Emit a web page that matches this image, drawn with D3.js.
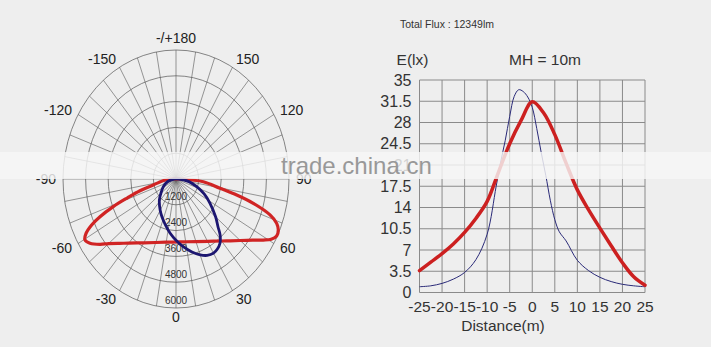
<!DOCTYPE html>
<html><head><meta charset="utf-8">
<script src="https://cdn.jsdelivr.net/npm/d3@7"></script>
<style>
html,body{margin:0;padding:0;background:#eeeeee;}
svg{display:block;font-family:Arial,"Liberation Sans",sans-serif;}
</style></head>
<body>
<svg id="c" width="711" height="347"></svg>
<script>
// ---------- DATA ----------
// Polar intensity (cd), angle in degrees (0 = down, +90 = right)
const redAngles  = [-90,-85.4,-77,-74.1,-71.1,-68.9,-66.5,-64.5,-62.1,-59.6,-56.8,-53,-50,-45,-40,-30,-20,-10,0,10,20,30,40,45,50,55,58.5,61,63.6,66.4,68.9,71.5,74.6,77,79.5,85,90];
const redValues  = [250,586,1237,1988,2767,3570,4400,4961,5405,5604,5459,5050,4673,4228,3897,3426,3142,2984,2930,2965,3098,3345,3764,4064,4449,4962,5435,5780,5968,5927,5730,5265,4258,3308,2376,1455,250];
const blueAngles = [-90,-75,-62,-50,-42,-30,-23,-15,-7,0,7,14,20,25,30,34,38,42,45,50,58,65,72,80,90];
const blueValues = [100,450,763,1050,1320,1680,1910,2200,2545,2850,3172,3500,3757,3920,3983,3930,3794,3500,3157,2750,2130,1650,1156,700,150];
const ringValues = [1200,2400,3600,4800,6000];
const angleLabels = [-150,-120,-90,-60,-30,0,30,60,90,120,150];
const topLabel = "-/+180";

// Illuminance curve (MH = 10m)
const distRed  = [-25,-22.5,-20,-17.5,-15,-12.5,-10,-7.5,-5,-2.5,0,2.5,5,7.5,10,12.5,15,17.5,20,22.5,25];
const luxRed   = [3.6,5.0,6.4,8.0,9.9,12.2,15.0,19.8,24.5,28.3,31.4,29.6,26.0,21.3,16.9,13.6,10.6,7.7,4.9,2.6,1.2];
const distBlue = [-25,-22.5,-20,-17.5,-15,-12.5,-10,-8,-7,-6,-5,-4,-3,-2,-1,0,1,2,3,4,5,6,7.5,10,12.5,15,17.5,20,22.5,25];
const luxBlue  = [0.95,1.1,1.5,2.2,3.3,5.4,9.6,17.5,21.5,25.0,29.0,32.3,33.4,33.1,32.2,30.5,27.0,23.0,19.3,15.2,12.0,10.0,8.5,5.3,3.6,2.5,1.8,1.35,1.1,0.95];
const xTicks = [-25,-20,-15,-10,-5,0,5,10,15,20,25];
const yTicks = [0,3.5,7,10.5,14,17.5,21,24.5,28,31.5,35];
const yTickLabels = ["0","3.5","7","10.5","14","17.5","21","24.5","28","31.5","35"];
const totalFlux = "Total Flux : 12349lm";
const mhLabel = "MH = 10m";

// ---------- DRAW ----------
const svg = d3.select("#c");
svg.append("rect").attr("width",711).attr("height",347).attr("fill","#eeeeee");

// Polar chart
const cx = 176, cy = 179;
const rX = d3.scaleLinear().domain([0,6000]).range([0,113]);
const rY = d3.scaleLinear().domain([0,6000]).range([0,129]);
const rad = d => d*Math.PI/180;
const px = (a,v) => cx + rX(v)*Math.sin(rad(a));
const py = (a,v) => cy + rY(v)*Math.cos(rad(a));
const gP = svg.append("g");
const gridCol = "#555";
// radial lines every 10 deg
d3.range(0,360,10).forEach(a=>{
  gP.append("line").attr("x1",cx).attr("y1",cy)
    .attr("x2",px(a,6000)).attr("y2",py(a,6000))
    .attr("stroke",gridCol).attr("stroke-width",0.6);
});
ringValues.forEach(v=>{
  gP.append("ellipse").attr("cx",cx).attr("cy",cy).attr("rx",rX(v)).attr("ry",rY(v))
    .attr("fill","none").attr("stroke",gridCol).attr("stroke-width",0.7);
});
ringValues.forEach(v=>{
  gP.append("text").attr("x",cx).attr("y",cy+rY(v)-8)
    .attr("text-anchor","middle").attr("dominant-baseline","central")
    .attr("font-size",10).attr("fill","#333").text(v);
});
angleLabels.forEach(a=>{
  const s = Math.sin(rad(a));
  const x = cx + (rX(6000)+7)*s, y = cy + (rY(6000)+9)*Math.cos(rad(a));
  gP.append("text").attr("x",x).attr("y",y)
    .attr("text-anchor", s < -0.1 ? "end" : (s > 0.1 ? "start" : "middle"))
    .attr("dominant-baseline","central").attr("font-size",14).attr("fill","#222").text(a);
});
gP.append("text").attr("x",cx).attr("y",cy-rY(6000)-12)
  .attr("text-anchor","middle").attr("dominant-baseline","central")
  .attr("font-size",14).attr("fill","#222").text(topLabel);

const polarLine = d3.line().x(d=>px(d[0],d[1])).y(d=>py(d[0],d[1])).curve(d3.curveCatmullRomClosed.alpha(0.5));
gP.append("path").attr("d",polarLine(redAngles.map((a,i)=>[a,redValues[i]])))
  .attr("fill","none").attr("stroke","#d02424").attr("stroke-width",3.2).attr("stroke-linejoin","round");
gP.append("path").attr("d",polarLine(blueAngles.map((a,i)=>[a,blueValues[i]])))
  .attr("fill","none").attr("stroke","#1c1670").attr("stroke-width",2.8);

// Cartesian chart
const x = d3.scaleLinear().domain([-25,25]).range([419.5,645]);
const y = d3.scaleLinear().domain([0,35]).range([292.5,80]);
const gC = svg.append("g");
const gcol = "#8a8a8a";
xTicks.forEach(t=>{
  gC.append("line").attr("x1",x(t)).attr("x2",x(t)).attr("y1",y(0)).attr("y2",y(35))
    .attr("stroke",gcol).attr("stroke-width",1);
});
yTicks.forEach(t=>{
  gC.append("line").attr("x1",x(-25)).attr("x2",x(25)).attr("y1",y(t)).attr("y2",y(t))
    .attr("stroke",gcol).attr("stroke-width",1);
});
yTicks.forEach((t,i)=>{
  gC.append("text").attr("x",x(-25)-8).attr("y",y(t)).attr("text-anchor","end")
    .attr("dominant-baseline","central").attr("font-size",16).attr("fill","#333").text(yTickLabels[i]);
});
xTicks.forEach(t=>{
  gC.append("text").attr("x",x(t)).attr("y",y(0)+14).attr("text-anchor","middle")
    .attr("dominant-baseline","central").attr("font-size",15.5).attr("fill","#333").text(t);
});
gC.append("text").attr("x",503).attr("y",325).attr("text-anchor","middle")
  .attr("dominant-baseline","central").attr("font-size",15.5).attr("fill","#333").text("Distance(m)");
gC.append("text").attr("x",412.5).attr("y",59).attr("text-anchor","middle")
  .attr("dominant-baseline","central").attr("font-size",15.5).attr("fill","#333").text("E(lx)");
gC.append("text").attr("x",545).attr("y",59).attr("text-anchor","middle")
  .attr("dominant-baseline","central").attr("font-size",15.5).attr("fill","#333").text(mhLabel);
gC.append("text").attr("x",400).attr("y",24).attr("dominant-baseline","central")
  .attr("font-size",10.5).attr("fill","#333").text(totalFlux);

const cl = d3.line().x(d=>x(d[0])).y(d=>y(d[1])).curve(d3.curveCatmullRom.alpha(0.5));
gC.append("path").attr("d",cl(distBlue.map((d,i)=>[d,luxBlue[i]])))
  .attr("fill","none").attr("stroke","#2a2a78").attr("stroke-width",1);
gC.append("path").attr("d",cl(distRed.map((d,i)=>[d,luxRed[i]])))
  .attr("fill","none").attr("stroke","#cc2020").attr("stroke-width",3.5).attr("stroke-linecap","round");

// watermark band
svg.append("rect").attr("x",0).attr("y",152).attr("width",711).attr("height",27)
  .attr("fill","#f6f6f6").attr("opacity",0.82);
svg.append("text").attr("x",281).attr("y",174).attr("font-size",24)
  .attr("fill","#8f8f8f").attr("opacity",0.9).text("trade.china.cn");
</script>
</body></html>
